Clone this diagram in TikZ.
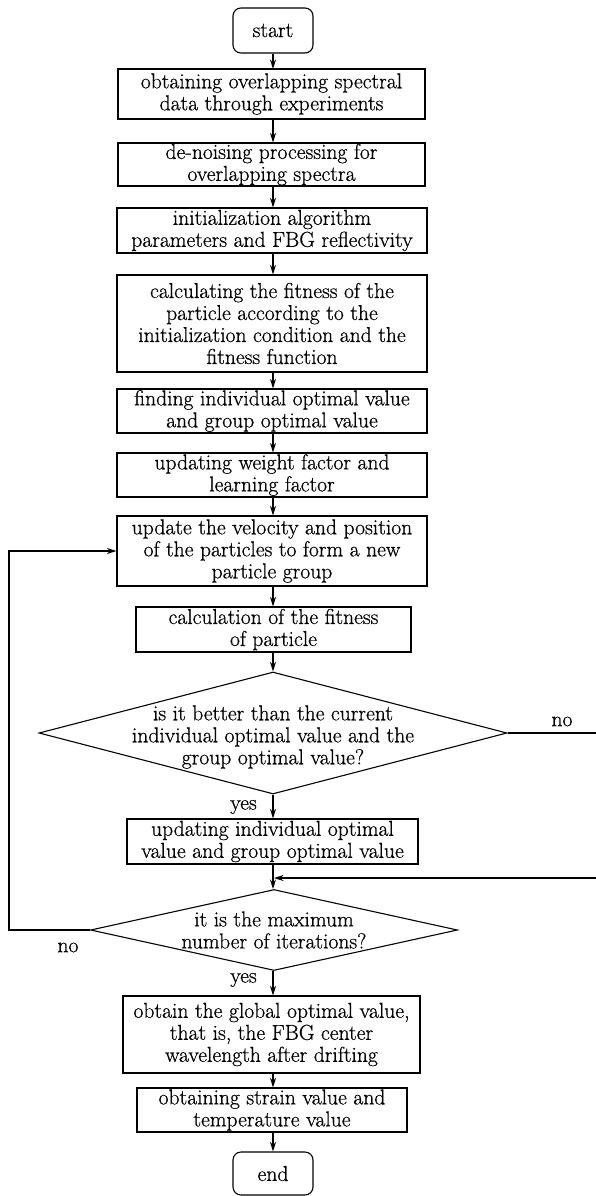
\documentclass[tikz,border=0pt]{standalone}
\usepackage{fontspec}
\newfontfamily\heavyfont{Latin Modern Roman}[FakeBold=0.6]
\usetikzlibrary{arrows.meta,shapes.geometric}
\begin{document}
\begin{tikzpicture}[x=1pt,y=-1pt,
  every node/.style={font=\heavyfont\fontsize{21.6}{22}\selectfont},
  box/.style={draw,line width=1.1pt,rectangle,align=center,inner sep=0pt},
  term/.style={box,rounded corners=8pt},
  dia/.style={draw,line width=1.1pt,diamond,inner sep=0pt},
  dtext/.style={align=center,inner sep=0pt},
  lbl/.style={inner sep=0pt},
  arr/.style={line width=1.1pt,-{Stealth[length=9.5pt,width=6pt]}}]
\fill[white] (0,0) rectangle (595,1196);
\useasboundingbox (0,0) rectangle (595,1196);

\node[term,minimum width=80pt,minimum height=45pt] (start) at (273,30.5) {start};
\node[box,minimum width=307pt,minimum height=50pt] (b1) at (271.5,94) {obtaining overlapping spectral\\data through experiments};
\node[box,minimum width=307pt,minimum height=43pt] (b2) at (271.5,164.5) {de-noising processing for\\overlapping spectra};
\node[box,minimum width=310pt,minimum height=45pt] (b3) at (272,230.5) {initialization algorithm\\parameters and FBG reflectivity};
\node[box,minimum width=310pt,minimum height=97pt] (b4) at (272,323.5) {calculating the fitness of the\\particle according to the\\initialization condition and the\\fitness function};
\node[box,minimum width=310pt,minimum height=44pt] (b5) at (272,411) {finding individual optimal value\\and group optimal value};
\node[box,minimum width=310pt,minimum height=44pt] (b6) at (272,475) {updating weight factor and\\learning factor};
\node[box,minimum width=310pt,minimum height=70pt] (b7) at (272,551) {update the velocity and position\\of the particles to form a new\\particle group};
\node[box,minimum width=275pt,minimum height=45pt] (b8) at (273.5,629.5) {calculation of the fitness\\of particle};
\node[dia,minimum width=468pt,minimum height=122pt] (d1) at (273,733) {};
\node[dtext] (d1t) at (273,737) {is it better than the current\\individual optimal value and the\\group optimal value?};
\node[box,minimum width=291pt,minimum height=45pt] (b9) at (272.5,841.5) {updating individual optimal\\value and group optimal value};
\node[dia,minimum width=367pt,minimum height=81pt] (d2) at (274,930) {};
\node[dtext] (d2t) at (274,930) {it is the maximum\\number of iterations?};
\node[box,minimum width=297pt,minimum height=77pt] (b10) at (271.5,1034.5) {obtain the global optimal value,\\that is, the FBG center\\wavelength after drifting};
\node[box,minimum width=270pt,minimum height=44pt] (b11) at (272,1110) {obtaining strain value and\\temperature value};
\node[term,minimum width=80pt,minimum height=43pt] (end) at (273,1173.5) {end};

\node[lbl] (no1) at (562,721.5) {no};
\node[lbl] (yes1) at (243.5,807) {yes};
\node[lbl] (no2) at (68,947.5) {no};
\node[lbl] (yes2) at (243.5,980) {yes};

\coordinate (rx) at (600,0);
\coordinate (lx) at (9,0);
\coordinate (m) at (274,878);

\draw[arr] (start.south -| 273,0) -- (273,69);
\draw[arr] (273,119) -- (b2.north -| 273,0);
\draw[arr] (273,186) -- (b3.north -| 273,0);
\draw[arr] (273,253) -- (b4.north -| 273,0);
\draw[arr] (273,372) -- (b5.north -| 273,0);
\draw[arr] (273,433) -- (b6.north -| 273,0);
\draw[arr] (273,497) -- (b7.north -| 273,0);
\draw[arr] (273,586) -- (b8.north -| 273,0);
\draw[arr] (b8.south -| 273,0) -- (d1.north);
\draw[arr] (d1.south) -- (b9.north -| 273,0);
\draw[arr] (b9.south -| 273,0) -- (273,889);
\draw[arr] (d2.south -| 273,0) -- (b10.north -| 273,0);
\draw[arr] (b10.south -| 273,0) -- (b11.north -| 273,0);
\draw[arr] (b11.south -| 273,0) -- (end.north -| 273,0);
\draw[arr] (d1.east) -- (d1.east -| rx) -- (m -| rx) -- (m);
\draw[arr] (d2.west) -- (d2.west -| lx) -- (b7.west -| lx) -- (b7.west);
\end{tikzpicture}
\end{document}
